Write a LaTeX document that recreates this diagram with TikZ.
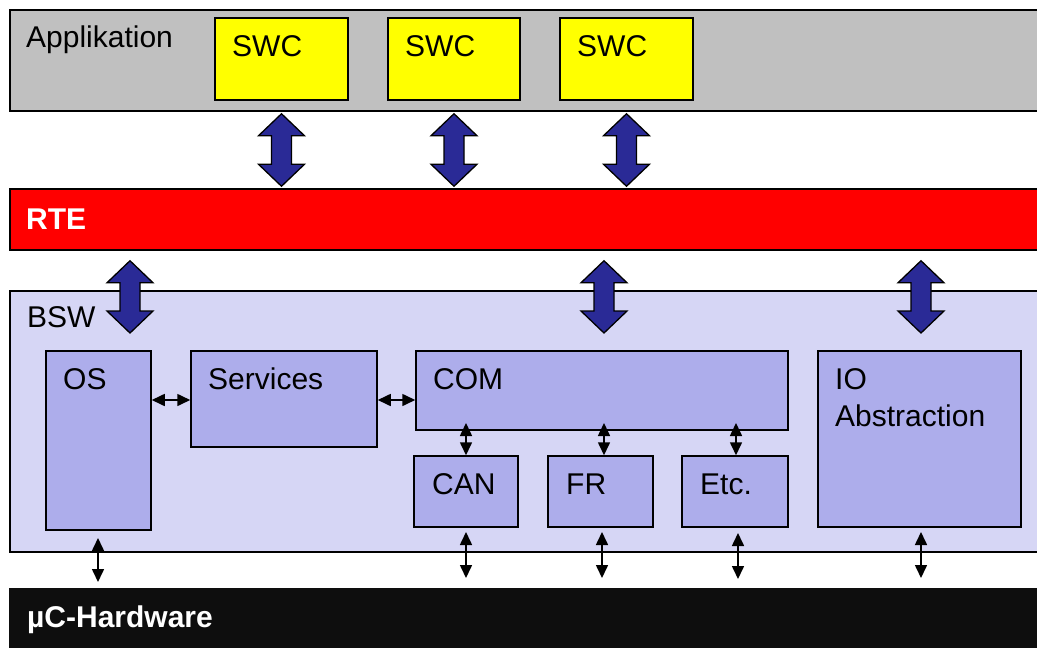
\documentclass[tikz,border=0pt]{standalone}
\usepackage{fontspec}
\setmainfont{Liberation Sans}
\usetikzlibrary{calc,fit,arrows.meta}

\definecolor{appgray}{HTML}{C0C0C0}
\definecolor{swcyellow}{HTML}{FFFF00}
\definecolor{rtered}{HTML}{FF0000}
\definecolor{bswbg}{HTML}{D6D6F5}
\definecolor{modfill}{HTML}{ADADEB}
\definecolor{fatblue}{HTML}{2A2A96}
\definecolor{hwblack}{HTML}{0E0E0E}

\tikzset{
  layer/.style={draw=black, line width=1.5pt, inner sep=0pt},
  swcbox/.style={layer, fill=swcyellow},
  modbox/.style={layer, fill=modfill},
  lbl/.style={anchor=base west, inner sep=0pt, font=\fontsize{30}{36}\selectfont},
  hlbl/.style={lbl, text=white, font=\fontsize{30}{36}\selectfont\bfseries},
  tip/.tip={Triangle[length=13pt,width=12pt]},
  sarrow/.style={line width=1.6pt, tip-tip},
  fat/.style={draw=black, line width=1.3pt, fill=fatblue, line join=miter}
}

% wide double-headed arrow between two tip points (first one on top)
\newcommand\fatlink[2]{%
  \draw[fat] let \p1=(#1), \p2=(#2) in
    (\x1,\y1) -- (\x1+23pt,\y1-22pt) -- (\x1+10pt,\y1-22pt)
    -- (\x1+10pt,\y2+22pt) -- (\x1+23pt,\y2+22pt) -- (\x1,\y2)
    -- (\x1-23pt,\y2+22pt) -- (\x1-10pt,\y2+22pt)
    -- (\x1-10pt,\y1-22pt) -- (\x1-23pt,\y1-22pt) -- cycle;}

\begin{document}
\begin{tikzpicture}[x=1pt,y=-1pt]
\useasboundingbox (0,0) rectangle (1037,648);
\clip (0,0) rectangle (1037,648);
\fill[white] (0,0) rectangle (1037,648);

% application layer
\node[layer, fill=appgray, fit={(10,10)(1050,111)}] (app) {};
\node[swcbox, fit={(215,18)(348,100)}] (swc1) {};
\node[swcbox, fit={(388,18)(520,100)}] (swc2) {};
\node[swcbox, fit={(560,18)(693,100)}] (swc3) {};
\node[lbl] (tapp) at (26,47) {Applikation};
\node[lbl] (tswc1) at (232,56) {SWC};
\node[lbl] (tswc2) at (405,56) {SWC};
\node[lbl] (tswc3) at (577,56) {SWC};

% runtime environment
\node[layer, fill=rtered, fit={(10,189)(1050,250)}] (rte) {};
\node[hlbl] (trte) at (26,229) {RTE};

% basic software
\node[layer, fill=bswbg, fit={(10,291)(1050,552)}] (bsw) {};
\node[lbl] (tbsw) at (27,327) {BSW};
\node[modbox, fit={(46,351)(151,530)}] (os) {};
\node[modbox, fit={(191,351)(377,447)}] (serv) {};
\node[modbox, fit={(416,351)(788,430)}] (com) {};
\node[modbox, fit={(414,456)(518,527)}] (can) {};
\node[modbox, fit={(548,456)(653,527)}] (fr) {};
\node[modbox, fit={(682,456)(788,527)}] (etc) {};
\node[modbox, fit={(818,351)(1021,527)}] (io) {};
\node[lbl] (tos) at (63,389) {OS};
\node[lbl] (tserv) at (208,389) {Services};
\node[lbl] (tcom) at (433,389) {COM};
\node[lbl] (tcan) at (432,494) {CAN};
\node[lbl] (tfr) at (566,494) {FR};
\node[lbl] (tetc) at (700,494) {Etc.};
\node[lbl] (tio) at (835,389) {IO};
\node[lbl] (tabs) at (835,426) {Abstraction};

% hardware
\node[layer, draw=hwblack, fill=hwblack, fit={(10,589)(1050,660)}] (hw) {};
\node[hlbl] (thw) at (27,627) {µC-Hardware};

% interfaces application <-> RTE
\coordinate (u1) at ($(swc1.south |- app.south)+(0,2)$);
\coordinate (d1) at ($(swc1.south |- rte.north)+(0,-2)$);
\coordinate (u2) at ($(swc2.south |- app.south)+(0,2)$);
\coordinate (d2) at ($(swc2.south |- rte.north)+(0,-2)$);
\coordinate (u3) at ($(swc3.south |- app.south)+(0,2)$);
\coordinate (d3) at ($(swc3.south |- rte.north)+(0,-2)$);
\fatlink{u1}{d1}
\fatlink{u2}{d2}
\fatlink{u3}{d3}

% interfaces RTE <-> BSW
\coordinate (u4) at ($(130,0 |- rte.south)+(0,10)$);
\coordinate (d4) at (130,333);
\coordinate (u5) at ($(604,0 |- rte.south)+(0,10)$);
\coordinate (d5) at (604,333);
\coordinate (u6) at ($(921,0 |- rte.south)+(0,10)$);
\coordinate (d6) at (921,333);
\fatlink{u4}{d4}
\fatlink{u5}{d5}
\fatlink{u6}{d6}

% module links
\draw[sarrow] (os.east |- 0,400) -- (serv.west |- 0,400);
\draw[sarrow] (serv.east |- 0,400) -- (com.west |- 0,400);
\draw[sarrow] (466,423) -- (466,0 |- can.north);
\draw[sarrow] (604,423) -- (604,0 |- fr.north);
\draw[sarrow] (736,423) -- (736,0 |- etc.north);

% links to hardware
\draw[sarrow] (98,538) -- (98,582);
\draw[sarrow] (can.south |- 0,532) -- (can.south |- 0,578);
\draw[sarrow] (602,532) -- (602,578);
\draw[sarrow] (738,533) -- (738,579);
\draw[sarrow] (921,532) -- (921,578);
\end{tikzpicture}
\end{document}
